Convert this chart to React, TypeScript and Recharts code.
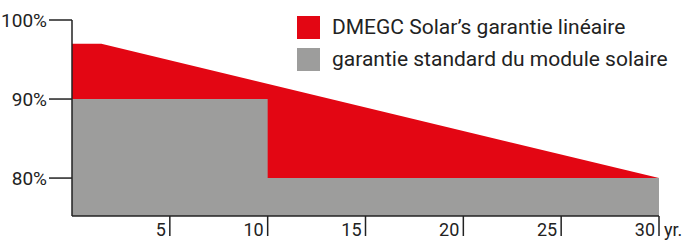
import React from "react";
import { Area, ComposedChart, XAxis, YAxis } from "recharts";

const FONT = "Roboto, sans-serif";

// DMEGC linear warranty (percent of nominal power by year)
const linearYears = [0, 1.5, 30];
const linearValues = [97, 97, 80];

// standard module warranty (step)
const standardYears = [0, 10, 10, 30];
const standardValues = [90, 90, 80, 80];

const xTicks = [5, 10, 15, 20, 25, 30];
const yTicks = [80, 90, 100];

const seriesNames = ["DMEGC Solar’s garantie linéaire", "garantie standard du module solaire"];
const COLORS = ["#E30613", "#9D9D9C"];

const linearData = linearYears.map((yr, i) => ({ yr, value: linearValues[i] }));
const standardData = standardYears.map((yr, i) => ({ yr, value: standardValues[i] }));

const XTick = ({ x, y, payload }) => (
  <g>
    <text x={x - 4} y={y} textAnchor="end" fontSize={18} fill="#222" fontFamily={FONT}>
      {payload.value}
    </text>
    {payload.value === 30 && (
      <text x={x + 5} y={y} textAnchor="start" fontSize={18} fill="#222" fontFamily={FONT}>
        yr.
      </text>
    )}
  </g>
);

export default function App() {
  return (
    <div style={{ position: "absolute", left: 0, top: 0, width: 683, height: 240, background: "#fff" }}>
      <ComposedChart width={683} height={240} margin={{ top: 20, right: 24, bottom: 0, left: 0 }}>
        <XAxis
          dataKey="yr"
          type="number"
          domain={[0, 30]}
          ticks={xTicks}
          height={24}
          tickSize={20}
          tickMargin={0}
          stroke="#222"
          strokeWidth={1.5}
          tick={<XTick />}
          allowDuplicatedCategory={false}
        />
        <YAxis
          type="number"
          domain={[75.2, 100]}
          allowDataOverflow
          ticks={yTicks}
          width={72}
          tickSize={23}
          tickMargin={2}
          stroke="#222"
          strokeWidth={1.5}
          tickFormatter={(v) => `${v}%`}
          tick={{ fontSize: 19, fill: "#222", fontFamily: FONT }}
        />
        <Area
          data={linearData}
          dataKey="value"
          type="linear"
          fill={COLORS[0]}
          fillOpacity={1}
          stroke="none"
          isAnimationActive={false}
        />
        <Area
          data={standardData}
          dataKey="value"
          type="linear"
          fill={COLORS[1]}
          fillOpacity={1}
          stroke="none"
          isAnimationActive={false}
        />
      </ComposedChart>
      <div style={{ position: "absolute", left: 297, top: 11, fontFamily: FONT, fontSize: 21, color: "#222" }}>
        {seriesNames.map((name, i) => (
          <div key={name} style={{ display: "flex", alignItems: "center", height: 32, whiteSpace: "nowrap" }}>
            <span style={{ width: 23, height: 23, background: COLORS[i], marginRight: 12 }} />
            <span>{name}</span>
          </div>
        ))}
      </div>
    </div>
  );
}
